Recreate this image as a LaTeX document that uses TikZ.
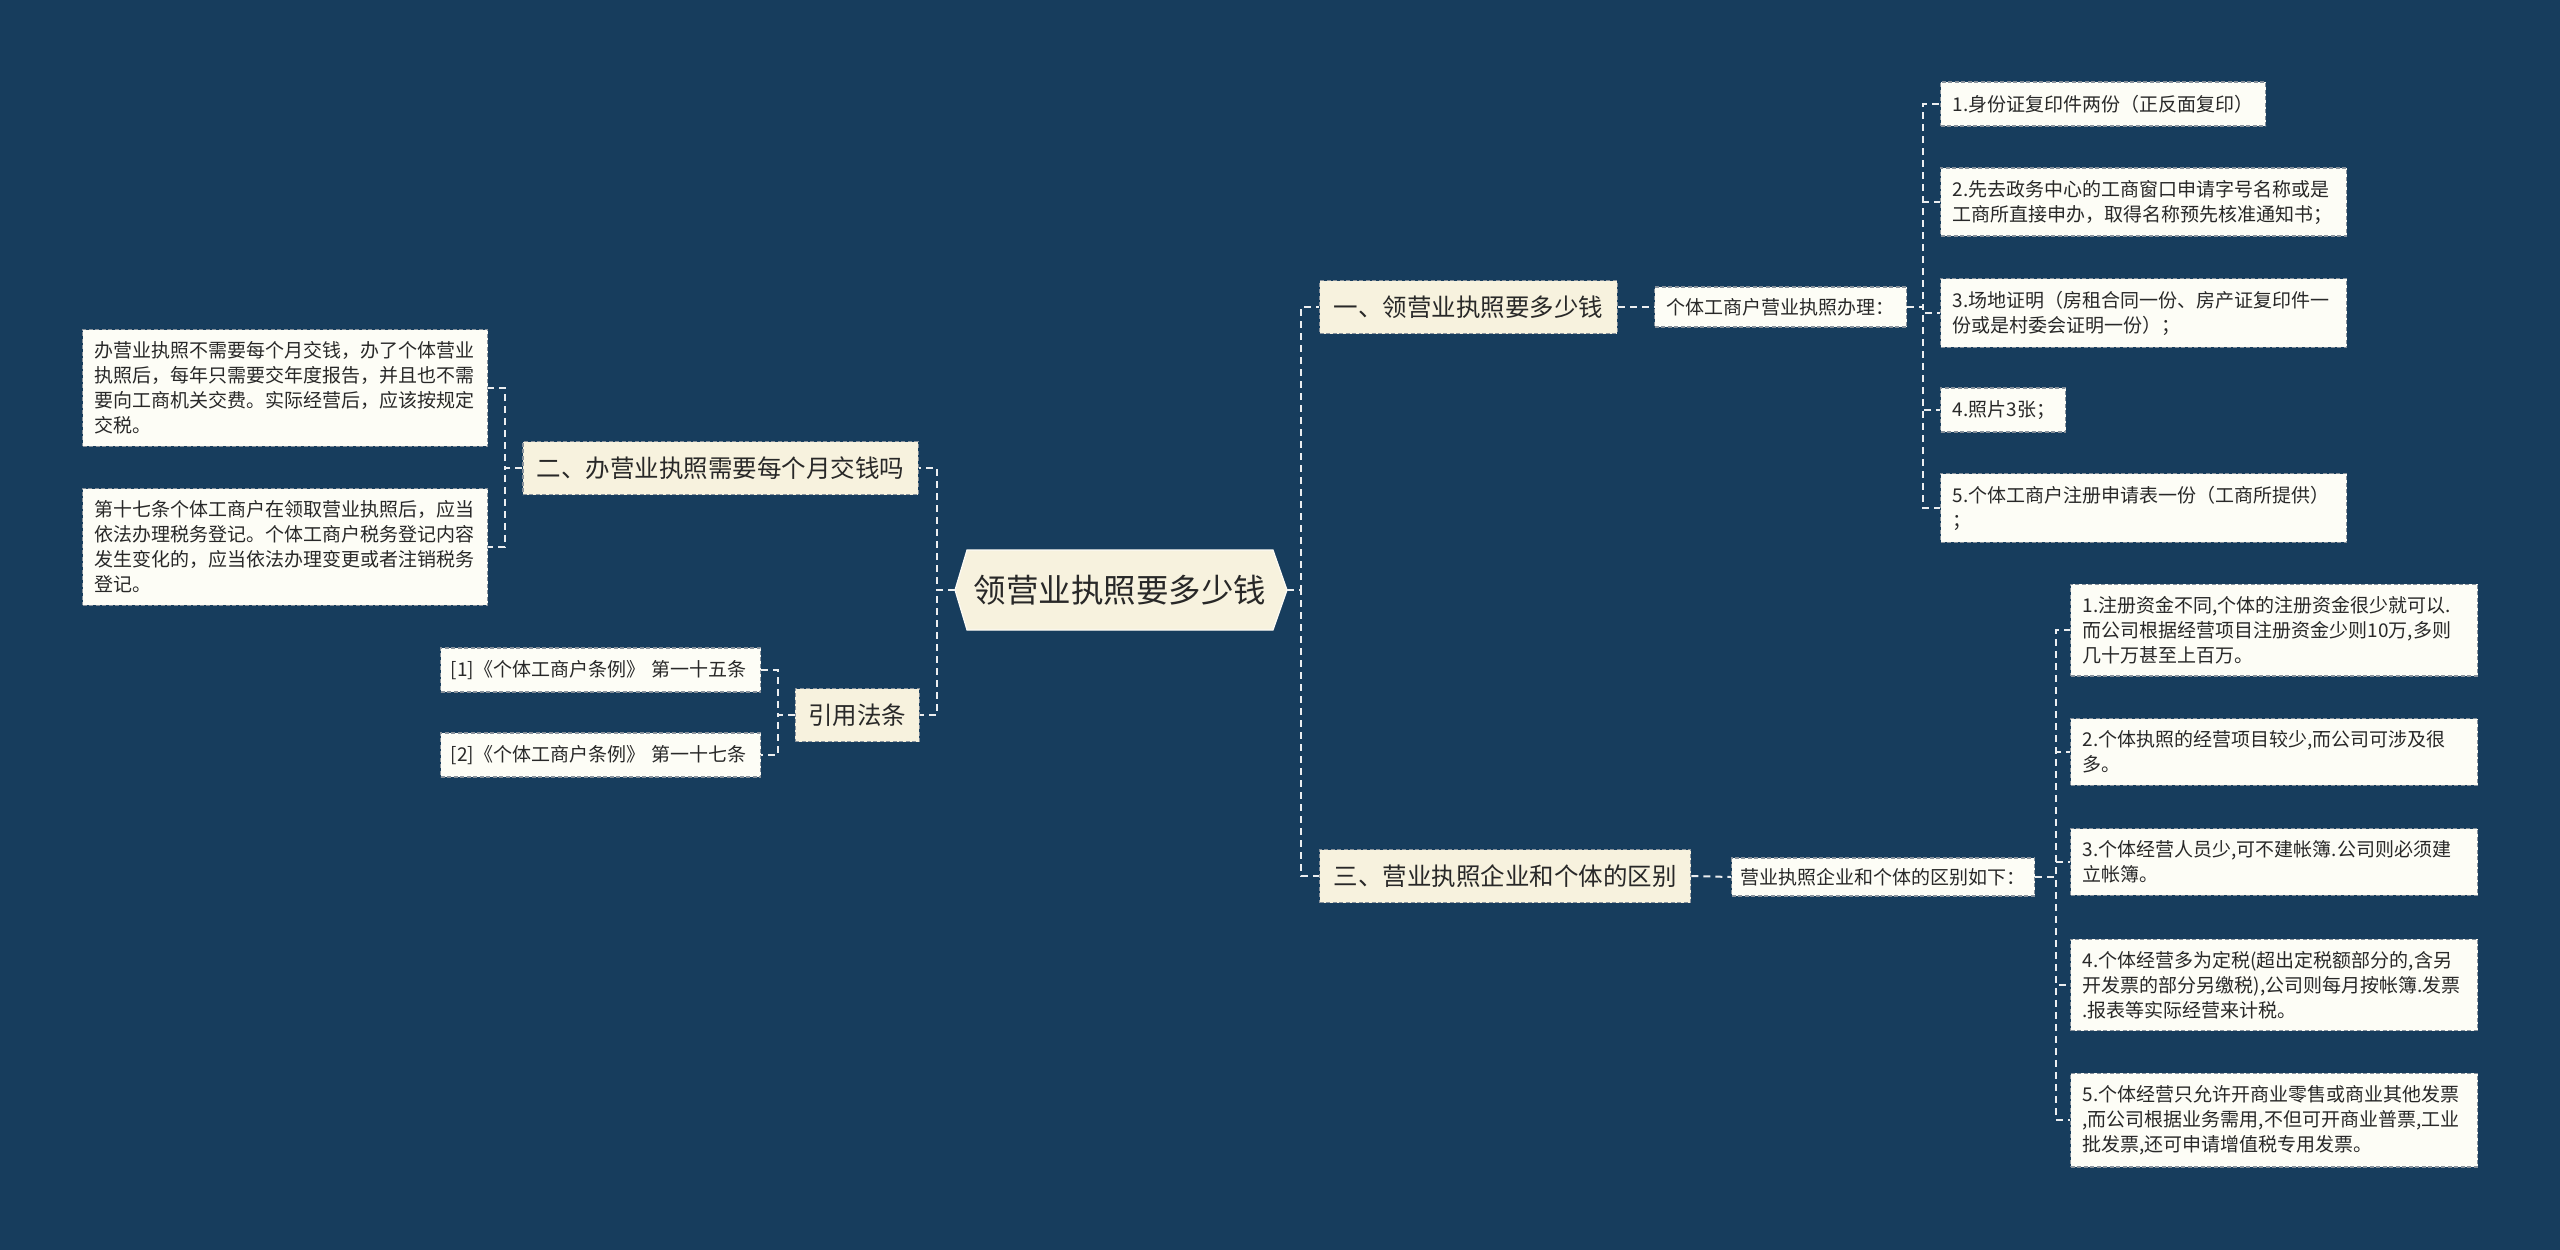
\documentclass[tikz,border=0pt]{standalone}
\usepackage{fontspec}
\setmainfont{Noto Sans CJK SC}
\definecolor{bg}{RGB}{23,61,93}
\definecolor{cream}{RGB}{247,242,222}
\definecolor{leafc}{RGB}{253,253,246}
\definecolor{bord}{RGB}{135,145,155}
\definecolor{txt}{RGB}{40,40,40}
\definecolor{lnk}{RGB}{235,238,240}
\tikzset{
  base/.style={draw=bord, line width=1.3pt, dash pattern=on 4pt off 2.5pt, text=txt},
  mainbox/.style={base, fill=cream, font=\fontsize{24.5}{30}\selectfont, inner xsep=14pt, inner ysep=0pt, minimum height=53pt},
  subbox/.style={base, fill=leafc, font=\fontsize{19}{25}\selectfont, inner xsep=12pt, inner ysep=0pt, minimum height=40pt},
  leafbox/.style={base, fill=leafc, font=\fontsize{19}{25}\selectfont, inner xsep=12pt, inner ysep=12pt, align=left, minimum height=44pt},
  conn/.style={draw=lnk, line width=2pt, dash pattern=on 7pt off 5pt},
}
\begin{document}
\begin{tikzpicture}[x=1pt, y=-1pt]
\useasboundingbox (0,0) rectangle (2560,1250);
\fill[bg] (0,0) rectangle (2560,1250);

% central hexagon
\fill[cream, draw=white!70!cream, line width=1.2pt] (955,590) -- (967,550) -- (1273,550) -- (1287,590) -- (1273,630) -- (967,630) -- cycle;
\node[font=\fontsize{32.5}{38}\selectfont, text=txt, minimum width=306pt, minimum height=80pt, inner sep=0pt] (c) at (1120,590) {领营业执照要多少钱};
\coordinate (cL) at (955,590);
\coordinate (cR) at (1287,590);

% right branch 1
\node[mainbox, anchor=west] (n1) at (1319,307) {一、领营业执照要多少钱};
\node[subbox, anchor=west] (a1) at (1654,307) {个体工商户营业执照办理：};
\node[leafbox, anchor=west, text width=301pt] (i1) at (1940,104) {1.身份证复印件两份（正反面复印）};
\node[leafbox, anchor=west, text width=382pt] (i2) at (1940,202) {2.先去政务中心的工商窗口申请字号名称或是\\工商所直接申办，取得名称预先核准通知书；};
\node[leafbox, anchor=west, text width=382pt] (i3) at (1940,313) {3.场地证明（房租合同一份、房产证复印件一\\份或是村委会证明一份）；};
\node[leafbox, anchor=west, text width=101pt] (i4) at (1940,410) {4.照片3张；};
\node[leafbox, anchor=west, text width=382pt] (i5) at (1940,508) {5.个体工商户注册申请表一份（工商所提供）\\；};

% right branch 3
\node[mainbox, anchor=west] (n3) at (1319,876) {三、营业执照企业和个体的区别};
\node[subbox, anchor=west, minimum height=38pt, inner xsep=9pt] (b1) at (1731,877) {营业执照企业和个体的区别如下：};
\node[leafbox, anchor=west, text width=383pt] (j1) at (2070,630) {1.注册资金不同,个体的注册资金很少就可以.\\而公司根据经营项目注册资金少则10万,多则\\几十万甚至上百万。};
\node[leafbox, anchor=west, text width=383pt] (j2) at (2070,752) {2.个体执照的经营项目较少,而公司可涉及很\\多。};
\node[leafbox, anchor=west, text width=383pt] (j3) at (2070,862) {3.个体经营人员少,可不建帐簿.公司则必须建\\立帐簿。};
\node[leafbox, anchor=west, text width=383pt] (j4) at (2070,985) {4.个体经营多为定税(超出定税额部分的,含另\\开发票的部分另缴税),公司则每月按帐簿.发票\\.报表等实际经营来计税。};
\node[leafbox, anchor=west, text width=383pt] (j5) at (2070,1120) {5.个体经营只允许开商业零售或商业其他发票\\,而公司根据业务需用,不但可开商业普票,工业\\批发票,还可申请增值税专用发票。};

% left branch 2
\node[mainbox, anchor=east] (n2) at (919,468) {二、办营业执照需要每个月交钱吗};
\node[leafbox, anchor=west, text width=381pt] (bA) at (82,388) {办营业执照不需要每个月交钱，办了个体营业\\执照后，每年只需要交年度报告，并且也不需\\要向工商机关交费。实际经营后，应该按规定\\交税。};
\node[leafbox, anchor=west, text width=381pt] (bB) at (82,547) {第十七条个体工商户在领取营业执照后，应当\\依法办理税务登记。个体工商户税务登记内容\\发生变化的，应当依法办理变更或者注销税务\\登记。};

% left branch refs
\node[mainbox, anchor=east, inner xsep=13pt] (n4) at (920,715) {引用法条};
\node[leafbox, anchor=west, inner xsep=10pt, text width=300pt] (r1) at (440,670) {[1]《个体工商户条例》 第一十五条};
\node[leafbox, anchor=west, inner xsep=10pt, text width=300pt] (r2) at (440,755) {[2]《个体工商户条例》 第一十七条};

% trunk coordinates
\coordinate (tR) at (1301,590);
\coordinate (tL) at (937,590);
\coordinate (tA) at (1923,307);
\coordinate (tB) at (2056,877);
\coordinate (tN2) at (505,468);
\coordinate (tN4) at (778,715);

% connectors
\draw[conn] (cR) -- (tR) |- (n1.west);
\draw[conn] (cR) -- (tR) |- (n3.west);
\draw[conn] (cL) -- (tL) |- (n2.east);
\draw[conn] (cL) -- (tL) |- (n4.east);
\draw[conn] (n1.east) -- (a1.west);
\draw[conn] (n3.east) -- (b1.west);
\foreach \t in {i1,i2,i3,i4,i5} \draw[conn] (a1.east) -- (tA) |- (\t.west);
\foreach \t in {j1,j2,j3,j4,j5} \draw[conn] (b1.east) -- (tB) |- (\t.west);
\foreach \t in {bA,bB} \draw[conn] (n2.west) -- (tN2) |- (\t.east);
\foreach \t in {r1,r2} \draw[conn] (n4.west) -- (tN4) |- (\t.east);
\end{tikzpicture}
\end{document}
